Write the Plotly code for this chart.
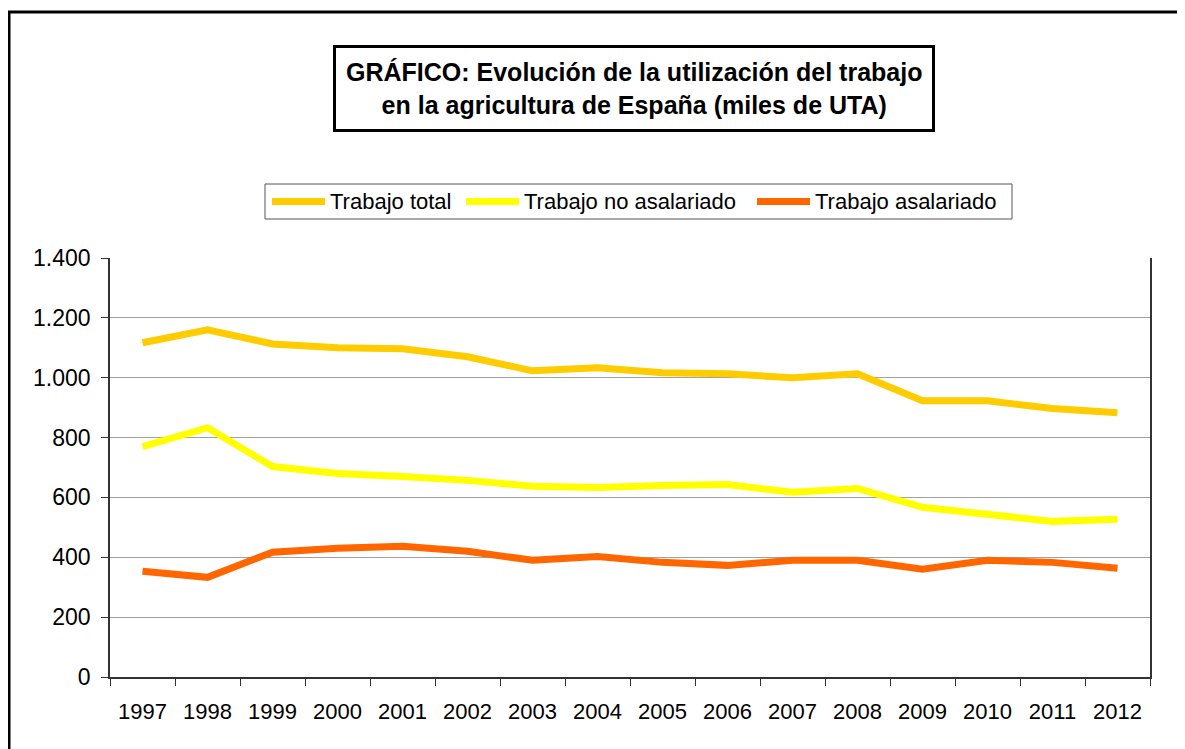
import plotly.graph_objects as go

years = ["1997", "1998", "1999", "2000", "2001", "2002", "2003", "2004",
         "2005", "2006", "2007", "2008", "2009", "2010", "2011", "2012"]
trabajo_total = [1117, 1160, 1113, 1100, 1097, 1070, 1023, 1033,
                 1017, 1013, 1000, 1013, 923, 923, 897, 883]
trabajo_no_asalariado = [770, 833, 703, 680, 670, 657, 637, 633,
                         640, 643, 617, 630, 567, 543, 520, 527]
trabajo_asalariado = [353, 333, 417, 430, 437, 420, 390, 403,
                      383, 373, 390, 390, 360, 390, 383, 363]
y_ticks = [0, 200, 400, 600, 800, 1000, 1200, 1400]

FONT = "Arial, Liberation Sans, sans-serif"
W, H = 1185, 749
OFF = 8  # page body margin
L, T = 102, 250
PW, PH = 1040, 419
R, B = W - L - PW, H - T - PH

def px(xi):
    return (xi - OFF - L) / PW

def py(yi):
    return (T + PH - (yi - OFF)) / PH

fig = go.Figure()
series = [
    ("Trabajo total", trabajo_total, "#FFCC00"),
    ("Trabajo no asalariado", trabajo_no_asalariado, "#FFFF00"),
    ("Trabajo asalariado", trabajo_asalariado, "#FF6600"),
]
for name, vals, col in series:
    fig.add_trace(go.Scatter(x=years, y=vals, name=name, mode="lines",
                             line=dict(color=col, width=7), showlegend=False))

fig.update_layout(
    width=W, height=H,
    margin=dict(l=L, r=R, t=T, b=B, autoexpand=False),
    paper_bgcolor="white", plot_bgcolor="white",
    separators=",.",
    font=dict(family=FONT, size=22, color="black"),
    showlegend=False,
    xaxis=dict(type="category", tickson="boundaries", ticks="outside", ticklen=7,
               tickcolor="#333333", showline=True, linecolor="#333333", linewidth=1.5,
               showgrid=False, tickfont=dict(size=22), range=[-0.5, 15.5],
               ticklabelstandoff=14),
    yaxis=dict(range=[0, 1400], tickvals=y_ticks, tickformat=",d", ticks="outside",
               ticklen=7, tickcolor="#333333", showline=True, mirror=True,
               linecolor="#333333", linewidth=1.5, showgrid=True, gridcolor="#A0A0A0",
               gridwidth=1, zeroline=False, tickfont=dict(size=23),
               ticklabelstandoff=6),
)

# outer frame
fig.add_shape(type="rect", xref="paper", yref="paper",
              x0=px(9), x1=px(1210), y0=py(780), y1=py(12),
              line=dict(color="black", width=3), fillcolor="rgba(0,0,0,0)")

# legend (box, swatches, labels)
fig.add_shape(type="rect", xref="paper", yref="paper",
              x0=px(265), x1=px(1012), y0=py(219), y1=py(184),
              line=dict(color="#555555", width=1), fillcolor="white")
legend_x = [(272, 325, 328), (466, 519, 522), (757, 810, 813)]
for (name, _, col), (sx0, sx1, tx) in zip(series, legend_x):
    fig.add_shape(type="line", xref="paper", yref="paper",
                  x0=px(sx0), x1=px(sx1), y0=py(201.5), y1=py(201.5),
                  line=dict(color=col, width=7))
    fig.add_annotation(xref="paper", yref="paper", x=px(tx), y=py(201.5),
                       xanchor="left", yanchor="middle", showarrow=False,
                       text=name, font=dict(family=FONT, size=22, color="black"))

# title box
fig.add_annotation(xref="paper", yref="paper", x=px(633.5), y=py(89),
                   xanchor="center", yanchor="middle", showarrow=False,
                   text="<b>GRÁFICO: Evolución de la utilización del trabajo<br>en la agricultura de España (miles de UTA)</b>",
                   font=dict(family=FONT, size=25, color="black"),
                   bordercolor="black", borderwidth=3, borderpad=10,
                   bgcolor="white", align="center")

fig.write_html("out.html")
